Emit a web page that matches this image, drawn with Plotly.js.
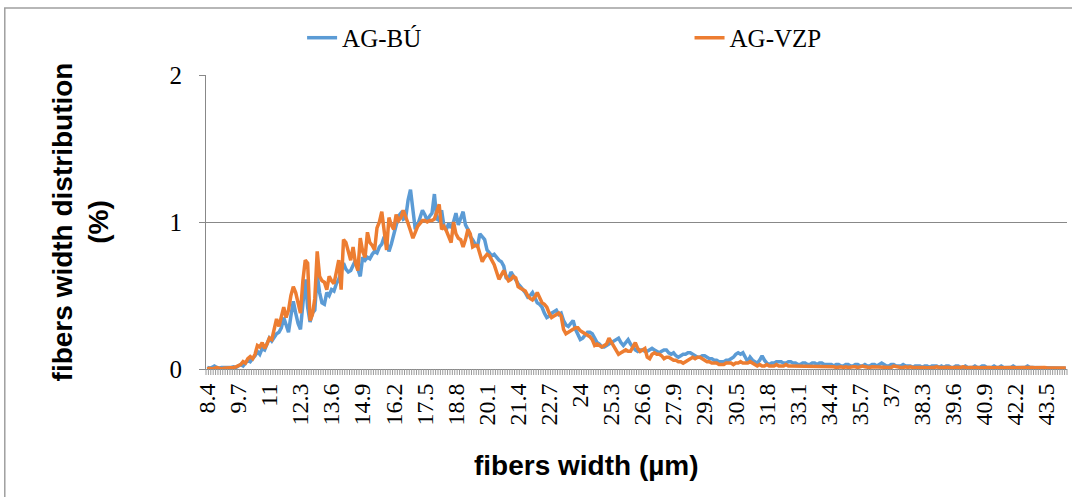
<!DOCTYPE html>
<html>
<head>
<meta charset="utf-8">
<script src="https://cdn.plot.ly/plotly-3.0.1.min.js"></script>
<style>html,body{margin:0;padding:0;background:#fff;}#chart{width:1072px;height:497px;}</style>
</head>
<body>
<div id="chart"></div>
<script>
// Category axis: fibre widths 8.4 ... 44.3 µm in 0.1 µm bins
const firstWidth = 8.4;
const binStep = 0.1;

const tickLabels = ["8.4","9.7","11","12.3","13.6","14.9","16.2","17.5","18.8","20.1","21.4","22.7","24","25.3","26.6","27.9","29.2","30.5","31.8","33.1","34.4","35.7","37","38.3","39.6","40.9","42.2","43.5"];

const agBU = [
0.01,0.005,0.01,0.02,0.01,0.005,0.01,0.01,0.005,0.01,
0.01,0.015,0.01,0.02,0.03,0.02,0.04,0.06,0.05,0.07,
0.09,0.12,0.10,0.14,0.13,0.17,0.21,0.19,0.22,0.24,
0.25,0.28,0.35,0.30,0.25,0.36,0.46,0.38,0.31,0.27,
0.45,0.61,0.42,0.32,0.38,0.40,0.64,0.52,0.45,0.44,
0.52,0.50,0.54,0.53,0.58,0.61,0.66,0.72,0.68,0.66,
0.67,0.70,0.74,0.68,0.63,0.76,0.74,0.76,0.75,0.78,
0.80,0.79,0.83,0.85,0.90,0.86,0.80,0.85,0.92,0.98,
1.04,1.06,1.02,1.03,1.15,1.22,1.06,0.95,0.98,1.03,
1.08,1.05,1.01,1.04,1.06,1.19,1.02,1.01,1.08,0.97,
0.95,0.99,0.96,1.00,1.06,0.98,1.02,1.07,0.98,0.95,
0.90,0.88,0.85,0.83,0.92,0.90,0.88,0.81,0.79,0.77,
0.78,0.76,0.74,0.73,0.70,0.62,0.61,0.66,0.63,0.61,
0.58,0.56,0.54,0.52,0.49,0.50,0.52,0.48,0.45,0.44,
0.42,0.38,0.35,0.36,0.38,0.39,0.40,0.37,0.38,0.33,
0.30,0.29,0.31,0.33,0.27,0.24,0.20,0.21,0.23,0.25,
0.25,0.24,0.21,0.18,0.17,0.15,0.15,0.16,0.17,0.18,
0.19,0.20,0.21,0.18,0.16,0.18,0.20,0.17,0.15,0.13,
0.12,0.13,0.13,0.12,0.12,0.13,0.14,0.13,0.12,0.11,
0.12,0.13,0.13,0.11,0.10,0.11,0.09,0.08,0.09,0.10,
0.10,0.11,0.11,0.10,0.09,0.08,0.08,0.09,0.09,0.08,
0.07,0.07,0.06,0.06,0.05,0.05,0.05,0.06,0.06,0.07,
0.08,0.10,0.11,0.10,0.11,0.08,0.05,0.08,0.06,0.05,
0.04,0.06,0.09,0.06,0.04,0.03,0.04,0.04,0.05,0.05,
0.05,0.04,0.04,0.05,0.05,0.04,0.04,0.03,0.03,0.04,
0.04,0.03,0.03,0.04,0.04,0.03,0.04,0.04,0.03,0.03,
0.03,0.03,0.02,0.03,0.03,0.02,0.02,0.03,0.03,0.02,
0.02,0.03,0.03,0.02,0.02,0.03,0.02,0.02,0.03,0.03,
0.02,0.03,0.04,0.03,0.02,0.02,0.03,0.03,0.02,0.02,
0.02,0.03,0.02,0.02,0.02,0.01,0.02,0.02,0.02,0.01,
0.02,0.02,0.01,0.02,0.02,0.02,0.01,0.02,0.01,0.02,
0.02,0.01,0.01,0.02,0.02,0.01,0.01,0.02,0.01,0.01,
0.01,0.02,0.01,0.01,0.02,0.02,0.01,0.01,0.01,0.02,
0.01,0.01,0.02,0.01,0.01,0.01,0.01,0.02,0.01,0.01,
0.01,0.01,0.01,0.02,0.01,0.01,0.01,0.01,0.01,0.01,
0.01,0.01,0.01,0.01,0.01,0.005,0.01,0.01,0.005,0.005
];

const agVZP = [
0.0,0.005,0.0,0.005,0.01,0.005,0.0,0.005,0.005,0.01,
0.01,0.01,0.015,0.02,0.03,0.05,0.04,0.07,0.085,0.07,
0.10,0.16,0.15,0.18,0.14,0.17,0.21,0.20,0.26,0.34,
0.29,0.36,0.42,0.35,0.40,0.50,0.56,0.52,0.45,0.38,
0.60,0.74,0.72,0.33,0.37,0.48,0.80,0.63,0.60,0.59,
0.54,0.63,0.60,0.58,0.66,0.74,0.54,0.88,0.86,0.80,
0.74,0.83,0.72,0.67,0.89,0.80,0.76,0.93,0.86,0.84,
0.81,0.96,1.00,1.07,0.92,0.81,1.03,0.98,0.95,1.05,
1.01,1.03,1.08,1.04,0.99,0.94,0.89,0.93,0.97,0.99,
1.01,1.01,1.00,1.01,1.01,1.02,1.08,1.12,0.95,0.97,
0.94,0.90,0.86,1.00,0.92,0.89,0.88,0.83,0.88,0.95,
0.92,0.83,0.84,0.84,0.78,0.73,0.76,0.78,0.77,0.74,
0.71,0.66,0.61,0.64,0.67,0.63,0.60,0.61,0.63,0.62,
0.56,0.55,0.54,0.53,0.50,0.48,0.47,0.49,0.52,0.49,
0.45,0.44,0.42,0.38,0.35,0.36,0.37,0.38,0.36,0.27,
0.24,0.25,0.26,0.27,0.28,0.28,0.26,0.25,0.24,0.23,
0.22,0.20,0.16,0.17,0.16,0.15,0.16,0.17,0.21,0.18,
0.15,0.13,0.10,0.11,0.12,0.13,0.12,0.12,0.15,0.18,
0.14,0.12,0.13,0.14,0.08,0.07,0.10,0.11,0.10,0.10,
0.09,0.07,0.08,0.08,0.07,0.06,0.06,0.05,0.05,0.04,
0.05,0.06,0.07,0.08,0.07,0.08,0.08,0.07,0.06,0.05,
0.05,0.04,0.04,0.04,0.03,0.03,0.03,0.04,0.04,0.04,
0.03,0.04,0.04,0.05,0.04,0.04,0.04,0.05,0.04,0.03,
0.02,0.03,0.02,0.02,0.03,0.02,0.02,0.02,0.03,0.02,
0.02,0.02,0.03,0.02,0.02,0.02,0.02,0.02,0.02,0.02,
0.02,0.02,0.015,0.02,0.02,0.015,0.015,0.02,0.015,0.015,
0.015,0.02,0.015,0.01,0.015,0.015,0.01,0.015,0.01,0.015,
0.015,0.015,0.01,0.015,0.02,0.015,0.01,0.01,0.015,0.015,
0.01,0.015,0.015,0.01,0.01,0.015,0.01,0.02,0.015,0.01,
0.01,0.01,0.015,0.01,0.015,0.01,0.01,0.01,0.015,0.01,
0.01,0.008,0.012,0.01,0.01,0.015,0.01,0.008,0.01,0.012,
0.01,0.01,0.008,0.012,0.01,0.01,0.015,0.01,0.008,0.01,
0.012,0.01,0.01,0.008,0.01,0.012,0.01,0.01,0.008,0.01,
0.01,0.012,0.01,0.008,0.01,0.01,0.012,0.01,0.008,0.01,
0.01,0.008,0.01,0.01,0.012,0.01,0.008,0.01,0.01,0.008,
0.01,0.008,0.008,0.01,0.008,0.008,0.01,0.006,0.008,0.006
];

const widths = agBU.map((_, i) => +(firstWidth + binStep * i).toFixed(1));
const tickVals = tickLabels.map(Number);
const xRange = [firstWidth - binStep/2, firstWidth + binStep*(agBU.length - 0.5)];

// category-boundary tick marks below the axis (one per bin), as an axis decoration path
const span = xRange[1] - xRange[0];
let tickPath = '';
for (let k = 0; k <= agBU.length; k++) {
  const fx = ((xRange[0] + k * binStep) - xRange[0]) / span;
  tickPath += `M${fx.toFixed(5)},0L${fx.toFixed(5)},-6`;
}

const traces = [
  {x: widths, y: agBU, name: 'AG-BÚ', type: 'scatter', mode: 'lines',
   line: {color: '#5B9BD5', width: 3.5}, legend: 'legend'},
  {x: widths, y: agVZP, name: 'AG-VZP', type: 'scatter', mode: 'lines',
   line: {color: '#ED7D31', width: 3.5}, legend: 'legend2'}
];

const gray = '#888888';
const legendFont = {family: 'Liberation Serif', size: 25, color: '#000'};
const titleFont = {family: 'Liberation Sans', size: 28, weight: 'bold', color: '#000'};
const layout = {
  width: 1072, height: 497,
  margin: {l: 206, r: 5, t: 75, b: 128},
  paper_bgcolor: '#ffffff', plot_bgcolor: '#ffffff',
  showlegend: true,
  legend: {orientation: 'h', x: 0.1116, xanchor: 'left', y: 1.126, yanchor: 'middle',
           bgcolor: 'rgba(0,0,0,0)', font: legendFont},
  legend2: {orientation: 'h', x: 0.5616, xanchor: 'left', y: 1.126, yanchor: 'middle',
           bgcolor: 'rgba(0,0,0,0)', font: legendFont},
  xaxis: {
    type: 'linear', range: xRange,
    tickmode: 'array', tickvals: tickVals, ticktext: tickLabels, tickangle: -90,
    ticks: '', showgrid: false, zeroline: false,
    showline: true, linecolor: gray, linewidth: 1,
    ticklabelstandoff: 4,
    tickfont: {family: 'Liberation Serif', size: 24, color: '#000'}
  },
  yaxis: {
    range: [0, 2], tickmode: 'linear', tick0: 0, dtick: 1,
    ticks: 'outside', ticklen: 6, tickcolor: gray,
    showgrid: true, gridcolor: gray, gridwidth: 1, zeroline: false,
    showline: true, linecolor: gray, linewidth: 1,
    ticklabelstandoff: 12,
    tickfont: {family: 'Liberation Serif', size: 25, color: '#000'},
    title: {text: 'fibers width distribution<br>(%)', standoff: 52, font: titleFont},
    automargin: true
  },
  annotations: [
    {text: 'fibers width (µm)', xref: 'paper', yref: 'paper',
     x: (586 - 206) / 860, y: (369 - 465) / 294, xanchor: 'center', yanchor: 'middle',
     showarrow: false, font: titleFont}
  ],
  shapes: [
    {type: 'rect', xref: 'paper', yref: 'paper',
     x0: -0.2337, x1: 1.0105, y0: -0.4456, y1: 1.2279,
     line: {color: '#a0a0a0', width: 1.5}, fillcolor: 'rgba(0,0,0,0)', layer: 'below'},
    {type: 'path', xref: 'paper', yref: 'paper', ysizemode: 'pixel', yanchor: 0,
     path: tickPath, line: {color: '#999999', width: 1}, layer: 'above'}
  ]
};

Plotly.newPlot('chart', traces, layout, {displayModeBar: false, staticPlot: true});
</script>
</body>
</html>
